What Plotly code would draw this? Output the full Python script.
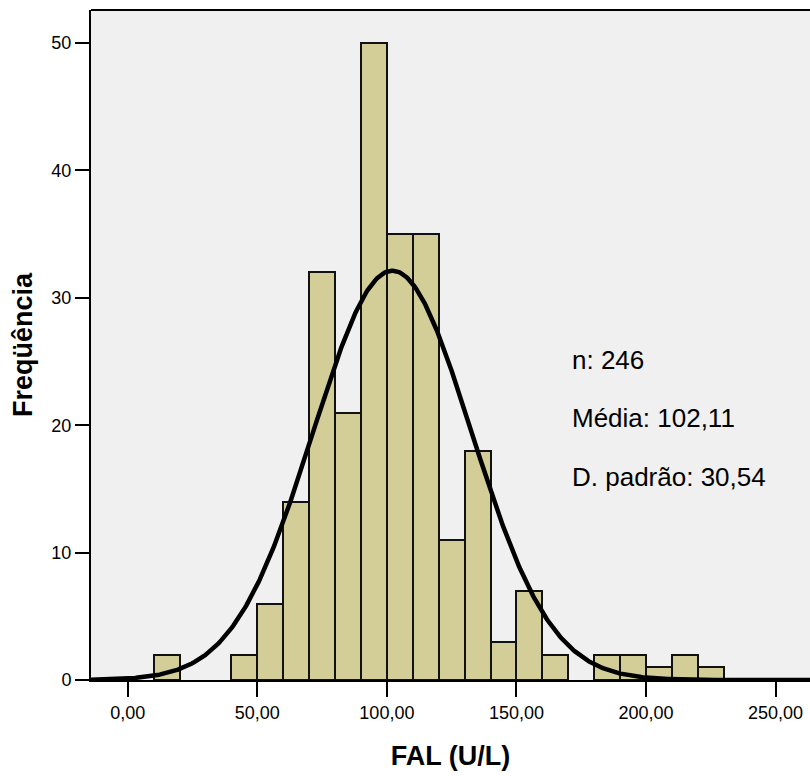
import numpy as np
import plotly.graph_objects as go

bin_left = [10, 20, 30, 40, 50, 60, 70, 80, 90, 100, 110, 120, 130, 140, 150, 160, 170, 180, 190, 200, 210, 220]
counts = [2, 0, 0, 2, 6, 14, 32, 21, 50, 35, 35, 11, 18, 3, 7, 2, 0, 2, 2, 1, 2, 1]
bin_width = 10
n_obs = 246
mean_val = 102.11
sd_val = 30.54
x_tickvals = [0, 50, 100, 150, 200, 250]
x_ticktext = ["0,00", "50,00", "100,00", "150,00", "200,00", "250,00"]
y_tickvals = [0, 10, 20, 30, 40, 50]
stats_text = ["n: 246", "Média: 102,11", "D. padrão: 30,54"]

FONT = "Liberation Sans, Arial, sans-serif"

centers = [b + bin_width / 2 for b in bin_left]
xs = [c for c, v in zip(centers, counts) if v > 0]
ys = [v for v in counts if v > 0]

fig = go.Figure()
fig.add_trace(go.Bar(
    x=xs, y=ys, width=bin_width,
    marker=dict(color="#d3ce98", line=dict(color="#111111", width=2)),
    showlegend=False, hoverinfo="skip",
))

xc = np.linspace(-15, 265, 600)
yc = n_obs * bin_width / (sd_val * np.sqrt(2 * np.pi)) * np.exp(-0.5 * ((xc - mean_val) / sd_val) ** 2)
fig.add_trace(go.Scatter(x=xc, y=yc, mode="lines", line=dict(color="black", width=4.5),
                         showlegend=False, hoverinfo="skip"))

fig.update_layout(
    width=810, height=776,
    margin=dict(l=91, r=0, t=10, b=96),
    paper_bgcolor="white", plot_bgcolor="#f0f0f0",
    bargap=0,
    font=dict(family=FONT, color="black", size=18),
    xaxis=dict(
        range=[-14.2, 263.3], tickvals=x_tickvals, ticktext=x_ticktext,
        showgrid=False, zeroline=False, showline=True, linecolor="black", linewidth=2,
        ticks="outside", ticklen=15, tickwidth=2, tickcolor="black",
        tickfont=dict(size=18),
        title=dict(text="<b>FAL (U/L)</b>", font=dict(size=27), standoff=25),
    ),
    yaxis=dict(
        range=[0, 52.6], tickvals=y_tickvals,
        showgrid=False, zeroline=False, showline=True, linecolor="black", linewidth=2,
        ticks="outside", ticklen=14, tickwidth=2, tickcolor="black",
        tickfont=dict(size=18),
        title=dict(text="<b>Freqüência</b>", font=dict(size=27), standoff=11),
    ),
    shapes=[dict(type="line", xref="paper", yref="paper", x0=0, x1=1, y0=1, y1=1,
                 line=dict(color="black", width=2))],
)

# pixel-to-data conversion for the statistics text block
x0_px, px_per_x = 127.7, 2.592
y0_px, px_per_y = 680, 12.74
for t, yp in zip(stats_text, [360, 418, 477]):
    fig.add_annotation(
        x=(570 - x0_px) / px_per_x, y=(y0_px - yp) / px_per_y, xref="x", yref="y",
        text=t, showarrow=False, xanchor="left", yanchor="middle",
        font=dict(size=26, family=FONT),
    )

fig.write_html("out.html")
